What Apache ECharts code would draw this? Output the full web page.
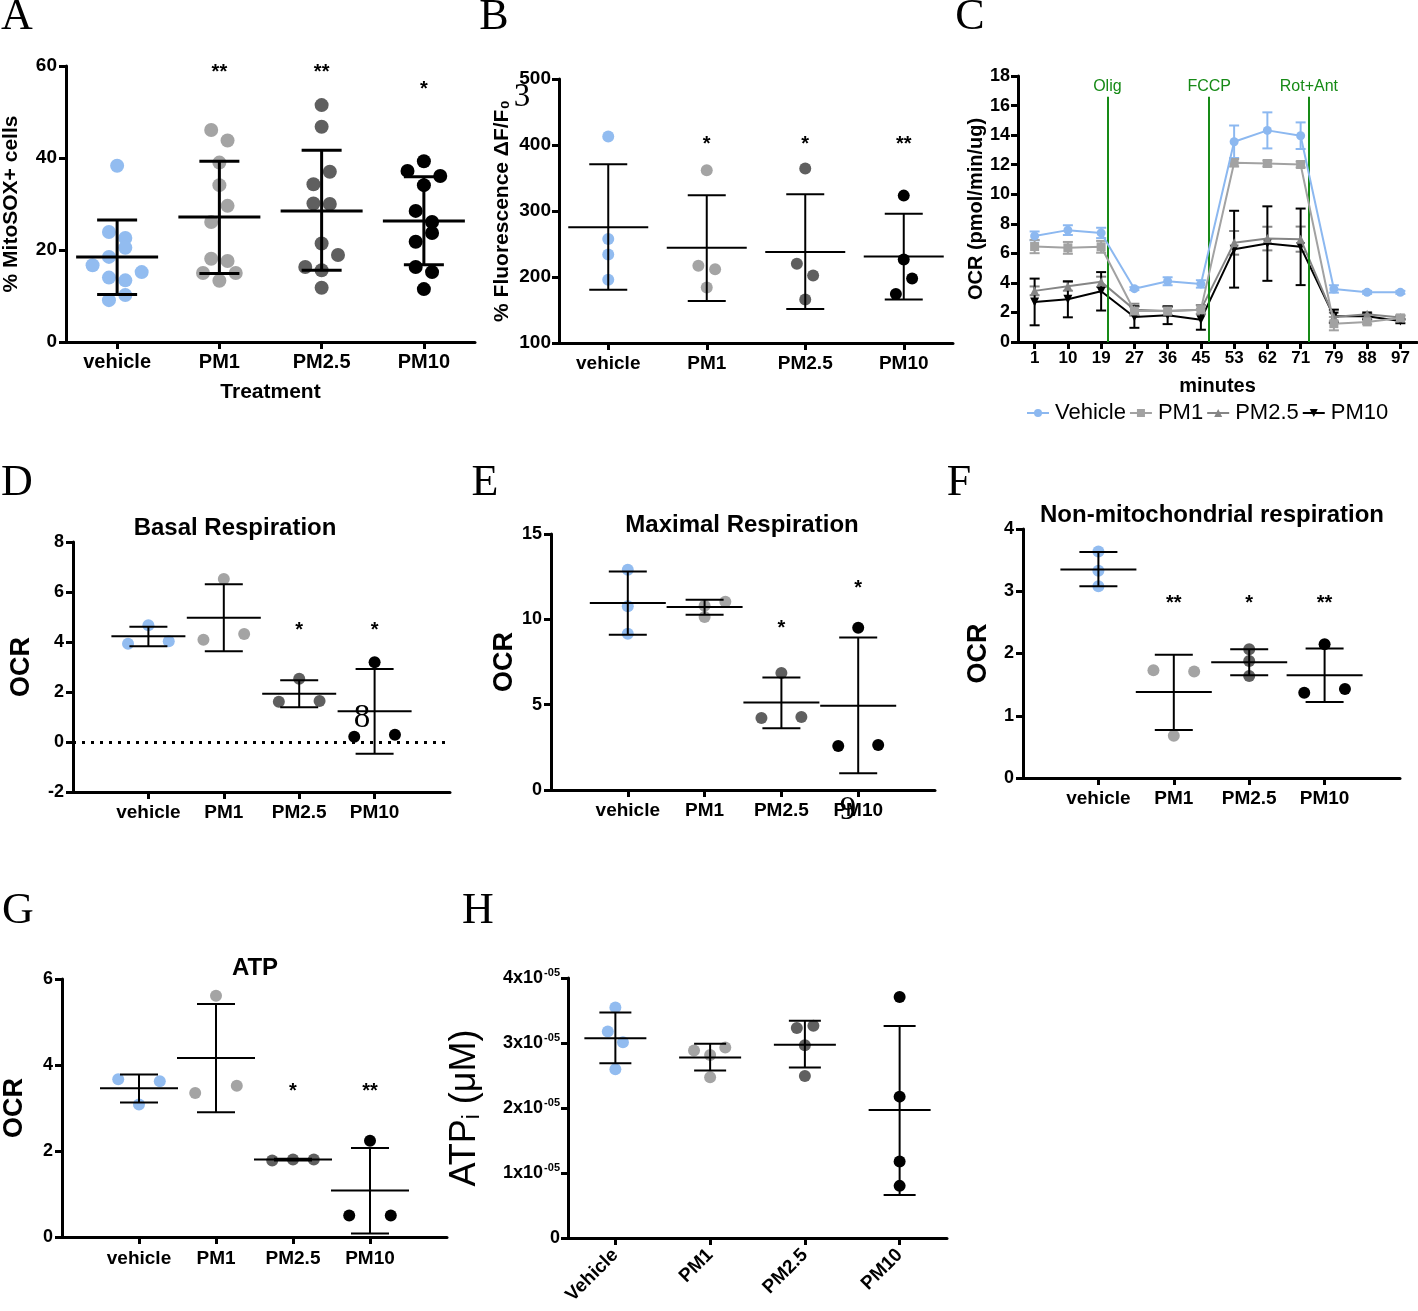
<!DOCTYPE html>
<html><head><meta charset="utf-8">
<script src="https://cdn.jsdelivr.net/npm/echarts@6/dist/echarts.min.js"></script>
<style>html,body{margin:0;padding:0;background:#fff}#c{width:1418px;height:1311px}</style>
</head><body><div id="c"></div>
<script>
// ---------------- DATA ----------------
const groups = ['vehicle', 'PM1', 'PM2.5', 'PM10'];
const groupsH = ['Vehicle', 'PM1', 'PM2.5', 'PM10'];

// A: % MitoSOX+ cells
const A_points = [
  [38.3, 23.9, 22.6, 20.5, 18.5, 16.7, 15.2, 14.0, 13.4, 10.2, 9.1],
  [46.1, 43.8, 39.0, 34.1, 29.6, 26.1, 18.1, 17.6, 15.0, 15.0, 13.3],
  [51.5, 46.8, 37.0, 34.3, 30.1, 30.0, 21.4, 18.9, 16.3, 15.6, 11.8],
  [39.3, 37.2, 36.1, 34.1, 28.5, 26.1, 23.7, 21.8, 16.3, 15.2, 11.5]
];
const A_jitter = [
  [0, -0.08, 0.08, 0.08, -0.08, -0.24, 0.24, -0.08, 0.08, 0.08, -0.08],
  [-0.08, 0.08, 0, 0, 0.08, -0.08, -0.08, 0.08, -0.16, 0.16, 0],
  [0, 0, 0.08, -0.08, -0.08, 0.08, 0, 0.16, -0.16, 0, 0],
  [0, -0.16, 0.16, 0, -0.08, 0.08, 0.08, -0.08, -0.08, 0.08, 0]
];
const A_mean = [18.5, 27.2, 28.5, 26.3];
const A_lo = [10.3, 14.9, 15.6, 16.8];
const A_hi = [26.5, 39.3, 41.7, 35.9];
const A_sig = ['', '**', '**', '*'];

// B: % Fluorescence
const B_points = [
  [412.9, 257.5, 234.2, 195.7],
  [361.8, 217.0, 211.9, 184.0],
  [364.3, 220.0, 202.3, 165.8],
  [323.3, 226.6, 197.7, 174.4]
];
const B_jitter = [[0, 0, 0, 0], [0, -0.085, 0.085, 0], [0, -0.085, 0.08, 0], [0, 0, 0.085, -0.08]];
const B_mean = [275.2, 244.3, 237.7, 231.1];
const B_lo = [180.5, 163.8, 151.6, 166.0];
const B_hi = [370.9, 323.8, 325.3, 296.0];
const B_sig = ['', '*', '*', '**'];

// C: OCR time course
const C_minutes = [1, 10, 19, 27, 36, 45, 53, 62, 71, 79, 88, 97];
const C_names = ['Vehicle', 'PM1', 'PM2.5', 'PM10'];
const C_vehicle = [7.18, 7.57, 7.38, 3.61, 4.11, 3.93, 13.55, 14.32, 13.96, 3.59, 3.36, 3.36];
const C_vehicle_err = [0.3, 0.33, 0.35, 0.1, 0.27, 0.25, 1.1, 1.22, 0.9, 0.25, 0.1, 0.1];
const C_PM1 = [6.46, 6.37, 6.44, 2.1, 2.1, 2.19, 12.13, 12.08, 12.01, 1.24, 1.36, 1.63];
const C_PM1_err = [0.45, 0.4, 0.4, 0.3, 0.3, 0.3, 0.25, 0.2, 0.2, 0.45, 0.15, 0.15];
const C_PM25 = [3.46, 3.77, 4.07, 2.19, 2.1, 2.19, 6.71, 7.0, 6.96, 1.69, 1.87, 1.65];
const C_PM25_err = [0.3, 0.3, 0.35, 0.4, 0.3, 0.3, 0.8, 0.8, 0.85, 0.3, 0.15, 0.15];
const C_PM10 = [2.71, 2.89, 3.43, 1.69, 1.81, 1.51, 6.28, 6.66, 6.44, 1.74, 1.74, 1.42];
const C_PM10_err = [1.58, 1.22, 1.3, 0.73, 0.6, 0.68, 2.6, 2.52, 2.59, 0.45, 0.2, 0.15];
const C_injectLabels = ['Olig', 'FCCP', 'Rot+Ant'];
const C_injectMinutes = [20.5, 47, 73];

// D: Basal respiration
const D_points = [[3.93, 4.67, 4.03], [6.52, 4.09, 4.32], [2.53, 1.61, 1.64], [3.19, 0.21, 0.29]];
const D_jitter = [[-0.27, 0, 0.27], [0, -0.27, 0.27], [0, -0.27, 0.27], [0, -0.27, 0.27]];
const D_mean = [4.23, 4.97, 1.93, 1.23];
const D_lo = [3.83, 3.63, 1.39, -0.47];
const D_hi = [4.61, 6.31, 2.47, 2.92];
const D_sig = ['', '', '*', '*'];

// E: Maximal respiration
const E_points = [[12.91, 10.76, 9.15], [10.8, 11.03, 10.13], [6.85, 4.22, 4.28], [9.5, 2.58, 2.64]];
const E_jitter = [[0, 0, 0], [0, 0.27, 0], [0, -0.26, 0.26], [0, -0.26, 0.26]];
const E_mean = [10.95, 10.72, 5.12, 4.93];
const E_lo = [9.09, 10.27, 3.62, 0.98];
const E_hi = [12.81, 11.15, 6.59, 8.94];
const E_sig = ['', '', '*', '*'];

// F: Non-mitochondrial respiration
const F_points = [[3.64, 3.33, 3.08], [1.73, 1.71, 0.68], [2.07, 1.88, 1.64], [2.15, 1.37, 1.43]];
const F_jitter = [[0, 0, 0], [-0.27, 0.27, 0], [0, 0, 0], [0, -0.27, 0.27]];
const F_mean = [3.35, 1.38, 1.86, 1.65];
const F_lo = [3.08, 0.77, 1.65, 1.22];
const F_hi = [3.63, 1.98, 2.07, 2.08];
const F_sig = ['', '**', '*', '**'];

// G: ATP
const G_points = [[3.67, 3.62, 3.08], [5.61, 3.35, 3.52], [1.78, 1.80, 1.80], [2.24, 0.5, 0.5]];
const G_jitter = [[-0.27, 0.27, 0], [0, -0.27, 0.27], [-0.27, 0, 0.27], [0, -0.27, 0.27]];
const G_mean = [3.46, 4.16, 1.80, 1.08];
const G_lo = [3.13, 2.9, 1.78, 0.08];
const G_hi = [3.78, 5.42, 1.82, 2.07];
const G_sig = ['', '', '*', '**'];

// H: ATPi (uM)
const H_points = [
  [3.548e-5, 3.177e-5, 3.013e-5, 2.596e-5],
  [2.884e-5, 2.93e-5, 2.817e-5, 2.473e-5],
  [3.229e-5, 3.265e-5, 2.967e-5, 2.494e-5],
  [3.707e-5, 2.175e-5, 1.177e-5, 0.802e-5]
];
const H_jitter = [[0, -0.08, 0.08, 0], [-0.17, 0.16, 0, 0], [-0.085, 0.09, 0, 0], [0, 0, 0, 0]];
const H_mean = [3.075e-5, 2.776e-5, 2.972e-5, 1.969e-5];
const H_lo = [2.69e-5, 2.576e-5, 2.622e-5, 0.663e-5];
const H_hi = [3.47e-5, 2.987e-5, 3.342e-5, 3.26e-5];

// ---------------- STYLE / BUILD ----------------
const FONT = '"Liberation Sans", Arial, Helvetica, sans-serif';
const SERIF = '"Liberation Serif", "Times New Roman", serif';
const groupColors = ['#92bcf0', '#a4a4a4', '#5f5f5f', '#000000'];

const option = {
  animation: false,
  backgroundColor: '#fff',
  grid: [], xAxis: [], yAxis: [], series: [], graphic: []
};

function axisCommon(lw) {
  return {
    axisLine: { show: true, onZero: false, lineStyle: { color: '#000', width: lw } },
    splitLine: { show: false }
  };
}

function addDotPanel(c) {
  const gi = option.grid.length;
  option.grid.push({ left: c.rect[0], top: c.rect[1], width: c.rect[2], height: c.rect[3] });
  const cats = c.cats || groups;
  option.xAxis.push(Object.assign(axisCommon(c.axisW || 3), {
    gridIndex: gi, type: 'value', min: c.xMin, max: c.xMax,
    axisTick: { show: true, customValues: [1, 2, 3, 4], length: 7, lineStyle: { color: '#000', width: c.axisW || 3 } },
    axisLabel: {
      customValues: [1, 2, 3, 4], formatter: v => cats[Math.round(v) - 1] || '',
      fontSize: c.xFont, fontWeight: 'bold', color: '#000', fontFamily: FONT,
      margin: c.xMargin || 10, rotate: c.xRotate || 0
    },
    name: c.xName || '', nameLocation: 'middle', nameGap: c.xNameGap || 40,
    nameTextStyle: { fontSize: 21, fontWeight: 'bold', color: '#000', fontFamily: FONT }
  }));
  option.yAxis.push(Object.assign(axisCommon(c.axisW || 3), {
    gridIndex: gi, type: 'value', min: c.yMin, max: c.yMax, interval: c.yInterval,
    axisTick: { show: true, length: 7, lineStyle: { color: '#000', width: c.axisW || 3 } },
    axisLabel: Object.assign({
      fontSize: c.yFont || 18, fontWeight: 'bold', color: '#000', fontFamily: FONT, margin: c.yMargin || 10
    }, c.yLabelExtra || {}),
    name: c.yName, nameLocation: 'middle', nameGap: c.yNameGap,
    nameTextStyle: Object.assign({ fontSize: c.yNameSize || 20, fontWeight: 'bold', color: '#000', fontFamily: FONT }, c.yNameExtra || {})
  }));
  groups.forEach((g, k) => {
    option.series.push({
      type: 'scatter', name: c.id + '-' + g, xAxisIndex: gi, yAxisIndex: gi,
      symbol: 'circle', symbolSize: c.dot, silent: true, z: 2,
      itemStyle: { color: groupColors[k], opacity: 1 },
      data: c.points[k].map((v, j) => [k + 1 + c.jitter[k][j], v])
    });
  });
  const mh = c.meanHalf, ch = c.capHalf, lw = c.barW;
  option.series.push({
    type: 'custom', name: c.id + '-err', xAxisIndex: gi, yAxisIndex: gi, silent: true, z: 3,
    encode: { x: 0, y: [1, 2, 3] },
    data: c.mean.map((m, k) => [k + 1, m, c.lo[k], c.hi[k]]),
    renderItem: (params, api) => {
      const x = api.value(0);
      const pm = api.coord([x, api.value(1)]);
      const pl = api.coord([x, api.value(2)]);
      const ph = api.coord([x, api.value(3)]);
      const st = { stroke: '#000', lineWidth: lw, fill: null };
      return { type: 'group', children: [
        { type: 'line', shape: { x1: pm[0] - mh, y1: pm[1], x2: pm[0] + mh, y2: pm[1] }, style: st },
        { type: 'line', shape: { x1: ph[0], y1: ph[1], x2: pl[0], y2: pl[1] }, style: st },
        { type: 'line', shape: { x1: ph[0] - ch, y1: ph[1], x2: ph[0] + ch, y2: ph[1] }, style: st },
        { type: 'line', shape: { x1: pl[0] - ch, y1: pl[1], x2: pl[0] + ch, y2: pl[1] }, style: st }
      ] };
    }
  });
  if (c.sig) {
    option.series.push({
      type: 'custom', name: c.id + '-sig', xAxisIndex: gi, yAxisIndex: gi, silent: true, z: 4,
      encode: { x: 0, y: 1 },
      data: c.sig.map((s, k) => [k + 1, c.sigY[k]]),
      renderItem: (params, api) => {
        const s = c.sig[params.dataIndex];
        if (!s) return null;
        const p = api.coord([api.value(0), api.value(1)]);
        return { type: 'text', x: p[0], y: p[1], style: {
          text: s, fontSize: c.sigSize || 20, fontWeight: 'bold', fontFamily: FONT,
          fill: '#000', textAlign: 'center', textVerticalAlign: 'middle'
        } };
      }
    });
  }
  if (c.zeroLine) {
    option.series[option.series.length - 2].markLine = {
      silent: true, symbol: 'none', label: { show: false },
      lineStyle: { color: '#000', width: 3, type: [3, 6] },
      data: [{ yAxis: 0 }]
    };
  }
  return gi;
}

// A
addDotPanel({
  id: 'A', rect: [63, 66, 412, 276], xMin: 0.5, xMax: 4.5, yMin: 0, yMax: 60, yInterval: 20,
  points: A_points, jitter: A_jitter, mean: A_mean, lo: A_lo, hi: A_hi,
  sig: A_sig, sigY: [0, 58.6, 58.6, 55.0], dot: 14, meanHalf: 41, capHalf: 20, barW: 3,
  xFont: 20, yFont: 19, xMargin: 10, yMargin: 9,
  yName: '% MitoSOX+ cells', yNameGap: 44, yNameSize: 21,
  xName: 'Treatment', xNameGap: 40
});
// B
addDotPanel({
  id: 'B', rect: [559, 79, 394, 264], xMin: 0.5, xMax: 4.5, yMin: 100, yMax: 500, yInterval: 100,
  points: B_points, jitter: B_jitter, mean: B_mean, lo: B_lo, hi: B_hi,
  sig: B_sig, sigY: [0, 401, 401, 401], dot: 12, meanHalf: 40, capHalf: 19, barW: 2,
  xFont: 19, yFont: 19, xMargin: 11, yMargin: 8,
  yName: '% Fluorescence \u0394F/F\u2080', yNameGap: 46, yNameSize: 21
});
// D
addDotPanel({
  id: 'D', rect: [73, 542, 377, 250], xMin: 0, xMax: 5, yMin: -2, yMax: 8, yInterval: 2,
  points: D_points, jitter: D_jitter, mean: D_mean, lo: D_lo, hi: D_hi,
  sig: D_sig, sigY: [0, 0, 4.46, 4.46], dot: 12, meanHalf: 37, capHalf: 19, barW: 2,
  xFont: 19, yFont: 18, xMargin: 11, yMargin: 9,
  yName: 'OCR', yNameGap: 38, yNameSize: 27, zeroLine: true
});
// E
addDotPanel({
  id: 'E', rect: [551, 534, 384, 256], xMin: 0, xMax: 5, yMin: 0, yMax: 15, yInterval: 5,
  points: E_points, jitter: E_jitter, mean: E_mean, lo: E_lo, hi: E_hi,
  sig: E_sig, sigY: [0, 0, 9.49, 11.83], dot: 12, meanHalf: 38, capHalf: 19, barW: 2,
  xFont: 19, yFont: 18, xMargin: 11, yMargin: 9,
  yName: 'OCR', yNameGap: 33, yNameSize: 27
});
// F
addDotPanel({
  id: 'F', rect: [1023, 529, 377, 249], xMin: 0, xMax: 5, yMin: 0, yMax: 4, yInterval: 1,
  points: F_points, jitter: F_jitter, mean: F_mean, lo: F_lo, hi: F_hi,
  sig: F_sig, sigY: [0, 2.8, 2.8, 2.8], dot: 12, meanHalf: 38, capHalf: 19, barW: 2,
  xFont: 19, yFont: 18, xMargin: 11, yMargin: 9,
  yName: 'OCR', yNameGap: 31, yNameSize: 27
});
// G
addDotPanel({
  id: 'G', rect: [62, 979, 385, 258], xMin: 0, xMax: 5, yMin: 0, yMax: 6, yInterval: 2,
  points: G_points, jitter: G_jitter, mean: G_mean, lo: G_lo, hi: G_hi,
  sig: G_sig, sigY: [0, 0, 3.39, 3.39], dot: 12, meanHalf: 39, capHalf: 19, barW: 2,
  xFont: 19, yFont: 18, xMargin: 12, yMargin: 9,
  yName: 'OCR', yNameGap: 34, yNameSize: 27
});
// H
addDotPanel({
  id: 'H', rect: [568, 978, 379, 260], xMin: 0.5, xMax: 4.5, yMin: 0, yMax: 4e-5, yInterval: 1e-5,
  cats: groupsH,
  points: H_points, jitter: H_jitter, mean: H_mean, lo: H_lo, hi: H_hi,
  dot: 12, meanHalf: 31, capHalf: 16, barW: 2,
  xFont: 19, yFont: 18, xMargin: 14, yMargin: 8, xRotate: 45,
  yLabelExtra: {
    formatter: v => {
      const n = Math.round(v / 1e-5);
      return n === 0 ? '{b|0}' : '{b|' + n + 'x10}{s|-05}';
    },
    rich: {
      b: { fontSize: 18, fontWeight: 'bold', fontFamily: FONT, color: '#000' },
      s: { fontSize: 11, fontWeight: 'bold', fontFamily: FONT, color: '#000', padding: [0, 0, 10, 1] }
    }
  },
  yName: 'ATP{sub|i} (\u03bcM)', yNameGap: 84, yNameSize: 36,
  yNameExtra: {
    fontWeight: 'normal',
    rich: { sub: { fontSize: 23, fontFamily: FONT, color: '#000', padding: [14, 0, 0, 0] } }
  }
});

// C: time course
(function () {
  const gi = option.grid.length;
  option.grid.push({ left: 1018, top: 76, width: 399, height: 266 });
  option.xAxis.push(Object.assign(axisCommon(3), {
    gridIndex: gi, type: 'value', min: -0.5, max: C_minutes.length - 0.5,
    axisTick: { show: true, customValues: C_minutes.map((m, i) => i), length: 7, lineStyle: { color: '#000', width: 3 } },
    axisLabel: {
      customValues: C_minutes.map((m, i) => i), formatter: v => String(C_minutes[Math.round(v)]),
      fontSize: 17, fontWeight: 'bold', color: '#000', fontFamily: FONT, margin: 8
    },
    name: 'minutes', nameLocation: 'middle', nameGap: 34,
    nameTextStyle: { fontSize: 20, fontWeight: 'bold', color: '#000', fontFamily: FONT }
  }));
  option.yAxis.push(Object.assign(axisCommon(3), {
    gridIndex: gi, type: 'value', min: 0, max: 18, interval: 2,
    axisTick: { show: true, length: 7, lineStyle: { color: '#000', width: 3 } },
    axisLabel: { fontSize: 18, fontWeight: 'bold', color: '#000', fontFamily: FONT, margin: 8 },
    name: 'OCR (pmol/min/ug)', nameLocation: 'middle', nameGap: 31,
    nameTextStyle: { fontSize: 20, fontWeight: 'bold', color: '#000', fontFamily: FONT }
  }));
  const vals = [C_vehicle, C_PM1, C_PM25, C_PM10];
  const errs = [C_vehicle_err, C_PM1_err, C_PM25_err, C_PM10_err];
  const colors = ['#8cb8f0', '#a2a2a2', '#858585', '#000000'];
  const symbols = ['circle', 'rect', 'triangle', 'path://M0,0 L10,0 L5,9 Z'];
  const sizes = [9, 9, 9, 9];
  const toIndex = m => {
    for (let i = 0; i < C_minutes.length - 1; i++) {
      if (m >= C_minutes[i] && m <= C_minutes[i + 1]) return i + (m - C_minutes[i]) / (C_minutes[i + 1] - C_minutes[i]);
    }
    return 0;
  };
  vals.forEach((v, s) => {
    option.series.push({
      type: 'custom', name: 'C-err-' + s, xAxisIndex: gi, yAxisIndex: gi, silent: true, z: 2,
      encode: { x: 0, y: [1, 2] },
      data: v.map((y, i) => [i, y, errs[s][i]]),
      renderItem: (params, api) => {
        const x = api.value(0), y = api.value(1), e = api.value(2);
        const p1 = api.coord([x, y - e]), p2 = api.coord([x, y + e]);
        const st = { stroke: colors[s], lineWidth: 2, fill: null };
        return { type: 'group', children: [
          { type: 'line', shape: { x1: p1[0], y1: p1[1], x2: p2[0], y2: p2[1] }, style: st },
          { type: 'line', shape: { x1: p1[0] - 5, y1: p1[1], x2: p1[0] + 5, y2: p1[1] }, style: st },
          { type: 'line', shape: { x1: p2[0] - 5, y1: p2[1], x2: p2[0] + 5, y2: p2[1] }, style: st }
        ] };
      }
    });
  });
  vals.forEach((v, s) => {
    const ser = {
      type: 'line', name: C_names[s], xAxisIndex: gi, yAxisIndex: gi, z: 3 + (3 - s),
      symbol: symbols[s], symbolSize: sizes[s], showAllSymbol: true,
      lineStyle: { color: colors[s], width: 2 },
      itemStyle: { color: colors[s], borderWidth: 0 },
      emphasis: { disabled: true },
      data: v.map((y, i) => [i, y])
    };
    if (s === 0) {
      ser.markLine = {
        silent: true, symbol: 'none',
        lineStyle: { color: '#168a16', width: 2, type: 'solid' },
        label: { show: true, position: 'end', color: '#168a16', fontSize: 16, fontFamily: FONT, distance: 2 },
        data: C_injectMinutes.map((m, k) => [
          { coord: [toIndex(m), 0] },
          { coord: [toIndex(m), 16.6], label: { formatter: C_injectLabels[k] } }
        ])
      };
    }
    option.series.push(ser);
  });
  option.legend = {
    data: C_names, left: 1021, top: 397, orient: 'horizontal',
    itemWidth: 22, itemHeight: 10, itemGap: 3, selectedMode: false,
    textStyle: { fontSize: 22, color: '#000', fontFamily: FONT, padding: [0, 0, 0, 1] }
  };
})();

// ---------------- GRAPHIC TEXT ----------------
const panelLetters = [
  ['A', 17, 17], ['B', 494, 17], ['C', 970, 17],
  ['D', 17, 483], ['E', 485, 483], ['F', 959, 483],
  ['G', 18, 911], ['H', 478, 911]
];
panelLetters.forEach(([t, x, y]) => option.graphic.push({
  type: 'text', x: x, y: y, silent: true,
  style: { text: t, font: '44px ' + SERIF, fill: '#000', textAlign: 'center', textVerticalAlign: 'middle' }
}));
const titles = [
  ['Basal Respiration', 235, 528], ['Maximal Respiration', 742, 525],
  ['Non-mitochondrial respiration', 1212, 515], ['ATP', 255, 968]
];
titles.forEach(([t, x, y]) => option.graphic.push({
  type: 'text', x: x, y: y, silent: true,
  style: { text: t, font: 'bold 24px ' + FONT, fill: '#000', textAlign: 'center', textVerticalAlign: 'middle' }
}));
// stray glyphs present in the source figure
[['3', 522, 97], ['8', 362, 718], ['9', 848, 810]].forEach(([t, x, y]) => option.graphic.push({
  type: 'text', x: x, y: y, silent: true, z: 100,
  style: { text: t, font: '33px ' + SERIF, fill: '#000', textAlign: 'center', textVerticalAlign: 'middle' }
}));

const chart = echarts.init(document.getElementById('c'), null, { renderer: 'canvas' });
chart.setOption(option);
</script>
</body></html>
